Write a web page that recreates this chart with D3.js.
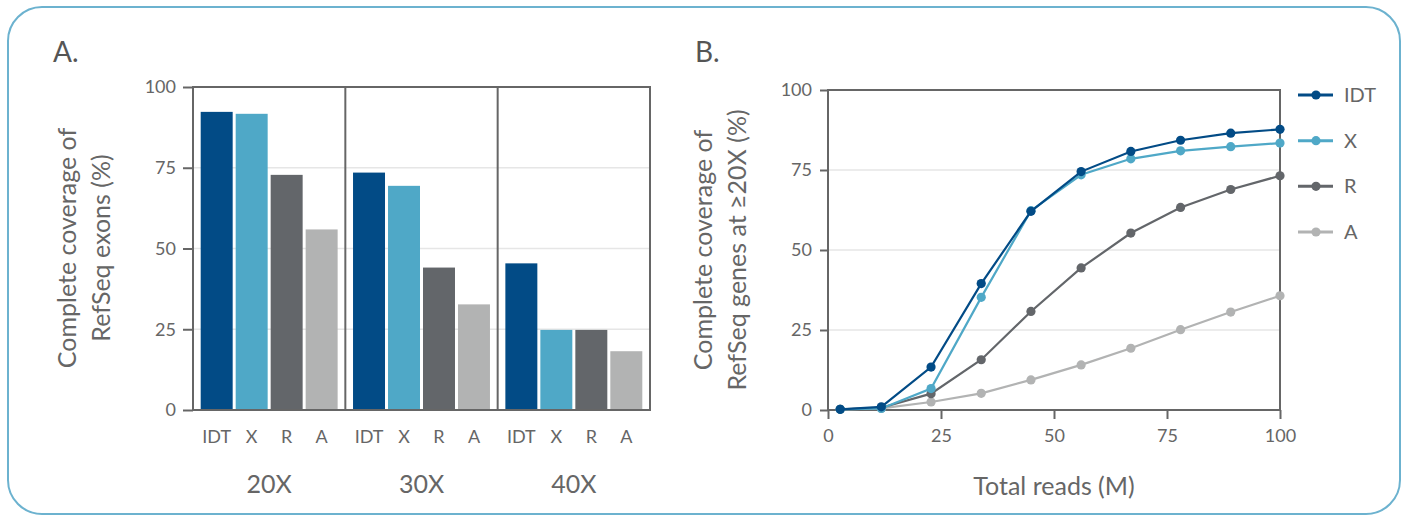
<!DOCTYPE html>
<html>
<head>
<meta charset="utf-8">
<script src="https://cdn.jsdelivr.net/npm/d3@7"></script>
<style>
  body { margin: 0; background: #fff; }
  svg text { font-family: Lato, "Noto Sans", sans-serif; fill: #666; }
</style>
</head>
<body>
<svg width="1407" height="516"></svg>
<script>
// data
var groups = ["20X", "30X", "40X"];
var kits = ["IDT", "X", "R", "A"];
var kitColors = ["#024b86", "#4fa8c7", "#63666a", "#b2b3b3"];

// panel A: complete coverage of RefSeq exons (%), per group, per kit
var exons20 = [92.3, 91.7, 72.8, 55.9];
var exons30 = [73.5, 69.4, 44.1, 32.7];
var exons40 = [45.4, 24.8, 24.8, 18.2];

// panel B: total reads (M) vs coverage of genes at >=20X (%)
var reads = [2.7, 11.8, 22.8, 33.9, 44.9, 56.0, 67.0, 78.0, 89.1, 100];
var covIDT = [0.2, 1.0, 13.4, 39.5, 62.1, 74.5, 80.8, 84.3, 86.5, 87.7];
var covX   = [0.2, 0.5, 6.7, 35.2, 62.3, 73.5, 78.5, 81.0, 82.3, 83.4];
var covR   = [0.2, 0.7, 5.1, 15.7, 30.8, 44.4, 55.3, 63.3, 68.9, 73.2];
var covA   = [0.2, 0.5, 2.5, 5.2, 9.4, 14.1, 19.3, 25.1, 30.6, 35.7];

var yTicks = [0, 25, 50, 75, 100];
var xTicks = [0, 25, 50, 75, 100];

var svg = d3.select("svg");
var axisColor = "#666";
var gridColor = "#e6e6e6";
var fontFam = "Lato, 'Noto Sans', sans-serif";

// outer rounded frame
svg.append("rect")
  .attr("x", 8).attr("y", 7)
  .attr("width", 1392).attr("height", 507)
  .attr("rx", 34).attr("ry", 34)
  .attr("fill", "none")
  .attr("stroke", "#6cb2cf")
  .attr("stroke-width", 2);

//---------------- panel A ----------------
var exonTable = [exons20, exons30, exons40];

var aX = d3.scaleBand().domain(groups).range([193, 650]);
var aInner = d3.scaleBand().domain(kits).range([0, aX.bandwidth()])
  .paddingInner(0.086).paddingOuter(0.22);
var aY = d3.scaleLinear().domain([0, 100]).range([410, 87]);
var kitColor = d3.scaleOrdinal().domain(kits).range(kitColors);

var gA = svg.append("g");

gA.append("text").attr("x", 53).attr("y", 62)
  .attr("font-size", 28).style("fill", "#555").text("A.");

// gridlines
gA.append("g").selectAll("line")
  .data([25, 50, 75]).enter().append("line")
  .attr("x1", 193).attr("x2", 650)
  .attr("y1", function(d) { return aY(d); })
  .attr("y2", function(d) { return aY(d); })
  .attr("stroke", gridColor).attr("stroke-width", 1.5);

// bars
groups.forEach(function(g, gi) {
  gA.append("g").selectAll("rect")
    .data(exonTable[gi]).enter().append("rect")
    .attr("x", function(d, i) { return aX(g) + aInner(kits[i]); })
    .attr("width", aInner.bandwidth())
    .attr("y", function(d) { return aY(d); })
    .attr("height", function(d) { return aY(0) - aY(d); })
    .attr("fill", function(d, i) { return kitColor(kits[i]); });

  // kit labels under each bar
  gA.append("g").selectAll("text")
    .data(kits).enter().append("text")
    .attr("x", function(k) { return aX(g) + aInner(k) + aInner.bandwidth() / 2; })
    .attr("y", 443)
    .attr("text-anchor", "middle")
    .attr("font-size", 18)
    .text(function(k) { return k; });

  gA.append("text")
    .attr("x", aX(g) + aX.bandwidth() / 2)
    .attr("y", 493)
    .attr("text-anchor", "middle")
    .attr("font-size", 25)
    .text(g);
});

// frame and group dividers
gA.append("rect")
  .attr("x", 193).attr("y", 87).attr("width", 457).attr("height", 323)
  .attr("fill", "none").attr("stroke", axisColor).attr("stroke-width", 2);
gA.append("g").selectAll("line")
  .data(groups.slice(1)).enter().append("line")
  .attr("x1", function(g) { return aX(g); })
  .attr("x2", function(g) { return aX(g); })
  .attr("y1", 87).attr("y2", 410)
  .attr("stroke", axisColor).attr("stroke-width", 2);

var aAxis = gA.append("g").attr("transform", "translate(193,0)")
  .call(d3.axisLeft(aY).tickValues(yTicks).tickSize(10).tickPadding(7));
aAxis.select(".domain").remove();
aAxis.selectAll(".tick line").attr("stroke", axisColor).attr("stroke-width", 2);
aAxis.selectAll(".tick text").attr("font-size", 18).attr("font-family", fontFam)
  .style("fill", "#666");

gA.append("text")
  .attr("transform", "translate(76,248) rotate(-90)")
  .attr("text-anchor", "middle").attr("font-size", 25)
  .selectAll("tspan").data(["Complete coverage of", "RefSeq exons (%)"])
  .enter().append("tspan")
  .attr("x", 0).attr("dy", function(d, i) { return i ? 34 : 0; })
  .text(function(d) { return d; });

//---------------- panel B ----------------
var series = [covIDT, covX, covR, covA];

var bX = d3.scaleLinear().domain([0, 100]).range([828, 1280]);
var bY = d3.scaleLinear().domain([0, 100]).range([410, 90]);

var gB = svg.append("g");

gB.append("text").attr("x", 695).attr("y", 62)
  .attr("font-size", 28).style("fill", "#555").text("B.");

gB.append("g").selectAll("line")
  .data([25, 50, 75]).enter().append("line")
  .attr("x1", 828).attr("x2", 1280)
  .attr("y1", function(d) { return bY(d); })
  .attr("y2", function(d) { return bY(d); })
  .attr("stroke", gridColor).attr("stroke-width", 1.5);

gB.append("rect")
  .attr("x", 828).attr("y", 90).attr("width", 452).attr("height", 320)
  .attr("fill", "none").attr("stroke", axisColor).attr("stroke-width", 2);

var byAxis = gB.append("g").attr("transform", "translate(828,0)")
  .call(d3.axisLeft(bY).tickValues(yTicks).tickSize(8).tickPadding(8));
byAxis.select(".domain").remove();
byAxis.selectAll(".tick line").attr("stroke", axisColor).attr("stroke-width", 2);
byAxis.selectAll(".tick text").attr("font-size", 18).attr("font-family", fontFam)
  .style("fill", "#666");

var bxAxis = gB.append("g").attr("transform", "translate(0,410)")
  .call(d3.axisBottom(bX).tickValues(xTicks).tickSize(9).tickPadding(10));
bxAxis.select(".domain").remove();
bxAxis.selectAll(".tick line").attr("stroke", axisColor).attr("stroke-width", 2);
bxAxis.selectAll(".tick text").attr("font-size", 18).attr("font-family", fontFam)
  .style("fill", "#666");

var line = d3.line()
  .x(function(d, i) { return bX(reads[i]); })
  .y(function(d) { return bY(d); });

// draw lightest series first so IDT sits on top
[3, 2, 1, 0].forEach(function(si) {
  var s = gB.append("g");
  s.append("path")
    .datum(series[si])
    .attr("d", line)
    .attr("fill", "none")
    .attr("stroke", kitColors[si])
    .attr("stroke-width", 2.2);
  s.selectAll("circle")
    .data(series[si]).enter().append("circle")
    .attr("cx", function(d, i) { return bX(reads[i]); })
    .attr("cy", function(d) { return bY(d); })
    .attr("r", 4.6)
    .attr("fill", kitColors[si]);
});

gB.append("text")
  .attr("x", 1054).attr("y", 495)
  .attr("text-anchor", "middle").attr("font-size", 25)
  .text("Total reads (M)");

gB.append("text")
  .attr("transform", "translate(712,250) rotate(-90)")
  .attr("text-anchor", "middle").attr("font-size", 25)
  .selectAll("tspan").data(["Complete coverage of", "RefSeq genes at \u226520X (%)"])
  .enter().append("tspan")
  .attr("x", 0).attr("dy", function(d, i) { return i ? 34 : 0; })
  .text(function(d) { return d; });

// legend
var legY = d3.scalePoint().domain(kits).range([95, 232]);
var leg = gB.append("g").selectAll("g")
  .data(kits).enter().append("g")
  .attr("transform", function(k) { return "translate(1298," + legY(k) + ")"; });
leg.append("line")
  .attr("x1", 0).attr("x2", 35)
  .attr("stroke", function(k) { return kitColor(k); })
  .attr("stroke-width", 3);
leg.append("circle")
  .attr("cx", 18).attr("r", 4.6)
  .attr("fill", function(k) { return kitColor(k); });
leg.append("text")
  .attr("x", 46).attr("y", 7)
  .attr("font-size", 20)
  .text(function(k) { return k; });
</script>
</body>
</html>
